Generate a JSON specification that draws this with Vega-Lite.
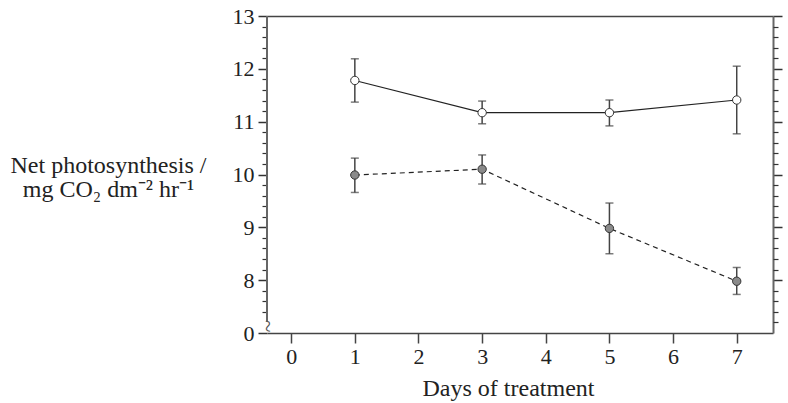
{
  "$schema": "https://vega.github.io/schema/vega-lite/v6.json",
  "width": 506,
  "height": 317,
  "autosize": "none",
  "padding": {"left": 267, "top": 16, "right": 15, "bottom": 70},
  "config": {
    "view": {"stroke": null},
    "font": "Liberation Serif",
    "axis": {"grid": false, "labelFont": "Liberation Serif", "titleFont": "Liberation Serif", "labelColor": "#222", "titleColor": "#222", "titleFontWeight": "normal"}
  },
  "datasets": {
    "photo": [
      {"day": 1, "treatment": "open", "mean": 11.78, "lo": 11.37, "hi": 12.19},
      {"day": 3, "treatment": "open", "mean": 11.17, "lo": 10.96, "hi": 11.39},
      {"day": 5, "treatment": "open", "mean": 11.17, "lo": 10.92, "hi": 11.41},
      {"day": 7, "treatment": "open", "mean": 11.41, "lo": 10.77, "hi": 12.05},
      {"day": 1, "treatment": "filled", "mean": 9.99, "lo": 9.66, "hi": 10.31},
      {"day": 3, "treatment": "filled", "mean": 10.1, "lo": 9.82, "hi": 10.37},
      {"day": 5, "treatment": "filled", "mean": 8.98, "lo": 8.5, "hi": 9.46},
      {"day": 7, "treatment": "filled", "mean": 7.98, "lo": 7.73, "hi": 8.24}
    ]
  },
  "resolve": {"axis": {"x": "independent", "y": "independent"}},
  "layer": [
    {
      "data": {"values": [{}]},
      "mark": {"type": "rule", "color": "#666", "strokeWidth": 2},
      "encoding": {
        "x": {
          "datum": -0.38,
          "type": "quantitative",
          "scale": {"domain": [-0.38, 7.57], "nice": false, "zero": false},
          "axis": {
            "orient": "bottom", "values": [0, 1, 2, 3, 4, 5, 6, 7], "format": "d",
            "title": "Days of treatment", "titleFontSize": 24, "titleX": 241, "titleY": 62,
            "titleAlign": "center", "titleBaseline": "alphabetic", "titleAnchor": null,
            "labelFontSize": 22, "labelPadding": 3, "labelFlush": false,
            "tickSize": 10, "tickColor": "#444", "tickWidth": 1.5,
            "domain": true, "domainColor": "#444", "domainWidth": 1.5
          }
        },
        "y": {
          "datum": 7.22,
          "type": "quantitative",
          "scale": {"domain": [7, 13], "nice": false, "zero": false},
          "axis": {
            "orient": "left", "values": [7, 8, 9, 10, 11, 12, 13],
            "labelExpr": "datum.value == 7 ? '0' : datum.label",
            "labelFontSize": 22, "labelPadding": 4, "labelFlush": false, "labelBaseline": "middle",
            "tickSize": 9, "tickColor": "#333", "tickWidth": 1.5, "domain": false,
            "title": ["Net photosynthesis /", "mg CO₂ dm⁻² hr⁻¹"],
            "titleFontSize": 24, "titleAngle": 0, "titleAlign": "center", "titleBaseline": "alphabetic",
            "titleX": -159, "titleY": 156, "titleLineHeight": 24, "titleAnchor": null
          }
        },
        "y2": {"datum": 13}
      }
    },
    {
      "data": {"values": [{}]},
      "mark": {"type": "text", "text": "~", "fontSize": 23, "angle": 90, "color": "#555", "font": "Liberation Serif", "baseline": "middle", "align": "center", "dx": -1},
      "encoding": {
        "x": {
          "datum": -0.38,
          "type": "quantitative",
          "scale": {"domain": [-0.38, 7.57], "nice": false, "zero": false},
          "axis": {"orient": "top", "ticks": false, "labels": false, "title": null, "domain": true, "domainColor": "#444", "domainWidth": 1.5}
        },
        "y": {
          "datum": 7.11,
          "type": "quantitative",
          "scale": {"domain": [7, 13], "nice": false, "zero": false},
          "axis": {
            "orient": "left",
            "values": [7.4, 7.6, 7.8, 8.2, 8.4, 8.6, 8.8, 9.2, 9.4, 9.6, 9.8, 10.2, 10.4, 10.6, 10.8, 11.2, 11.4, 11.6, 11.8, 12.2, 12.4, 12.6, 12.8],
            "labels": false, "tickSize": 5, "tickColor": "#333", "tickWidth": 1.2, "domain": false, "title": null
          }
        }
      }
    },
    {
      "data": {"name": "photo"},
      "transform": [{"filter": "datum.treatment == 'open'"}],
      "mark": {"type": "line", "color": "#222", "strokeWidth": 1.2},
      "encoding": {
        "x": {"field": "day", "type": "quantitative", "scale": {"domain": [-0.38, 7.57], "nice": false, "zero": false}, "axis": null},
        "y": {
          "field": "mean", "type": "quantitative",
          "scale": {"domain": [7, 13], "nice": false, "zero": false},
          "axis": {
            "orient": "right", "values": [8, 9, 10, 11, 12, 13], "labels": false,
            "tickSize": 9, "tickColor": "#333", "tickWidth": 1.5,
            "domain": true, "domainColor": "#666", "domainWidth": 2, "title": null
          }
        }
      }
    },
    {
      "data": {"name": "photo"},
      "transform": [{"filter": "datum.treatment == 'filled'"}],
      "mark": {"type": "line", "color": "#222", "strokeWidth": 1.2, "strokeDash": [5, 4]},
      "encoding": {
        "x": {"field": "day", "type": "quantitative", "scale": {"domain": [-0.38, 7.57], "nice": false, "zero": false}, "axis": null},
        "y": {
          "field": "mean", "type": "quantitative",
          "scale": {"domain": [7, 13], "nice": false, "zero": false},
          "axis": {
            "orient": "right",
            "values": [7.2, 7.4, 7.6, 7.8, 8.2, 8.4, 8.6, 8.8, 9.2, 9.4, 9.6, 9.8, 10.2, 10.4, 10.6, 10.8, 11.2, 11.4, 11.6, 11.8, 12.2, 12.4, 12.6, 12.8],
            "labels": false, "tickSize": 5, "tickColor": "#333", "tickWidth": 1.2, "domain": false, "title": null
          }
        }
      }
    },
    {
      "data": {"name": "photo"},
      "mark": {"type": "errorbar", "ticks": true, "size": 8, "thickness": 1.5, "color": "#444"},
      "encoding": {
        "x": {"field": "day", "type": "quantitative", "scale": {"domain": [-0.38, 7.57], "nice": false, "zero": false}, "axis": null},
        "y": {"field": "lo", "type": "quantitative", "scale": {"domain": [7, 13], "nice": false, "zero": false}, "axis": null},
        "y2": {"field": "hi"}
      }
    },
    {
      "data": {"name": "photo"},
      "mark": {"type": "point", "shape": "circle", "filled": true, "size": 70, "strokeWidth": 1, "stroke": "#333", "opacity": 1},
      "encoding": {
        "x": {"field": "day", "type": "quantitative", "scale": {"domain": [-0.38, 7.57], "nice": false, "zero": false}, "axis": null},
        "y": {"field": "mean", "type": "quantitative", "scale": {"domain": [7, 13], "nice": false, "zero": false}, "axis": null},
        "fill": {"field": "treatment", "type": "nominal", "scale": {"domain": ["open", "filled"], "range": ["#ffffff", "#8a8a8a"]}, "legend": null}
      }
    }
  ]
}
